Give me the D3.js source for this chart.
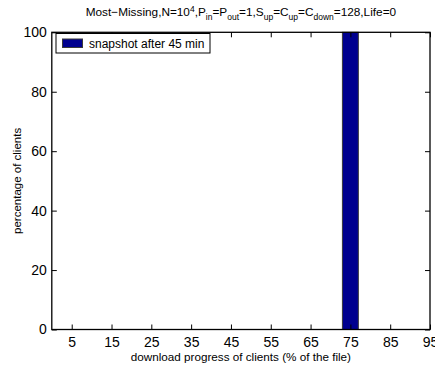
<!DOCTYPE html>
<html><head><meta charset="utf-8">
<script src="https://cdn.jsdelivr.net/npm/d3@7"></script>
<style>body{margin:0;background:#fff;}svg{display:block;font-family:"Liberation Sans",Arial,sans-serif;}</style>
</head><body>
<svg id="c" width="435" height="366"></svg>
<script>
const categories = [0,5,10,15,20,25,30,35,40,45,50,55,60,65,70,75,80,85,90,95];
const values     = [0,0,0,0,0,0,0,0,0,0,0,0,0,0,0,100,0,0,0,0];
const xTicks = [5,15,25,35,45,55,65,75,85,95];
const yTicks = [0,20,40,60,80,100];
const seriesName = "snapshot after 45 min";
const xLabel = "download progress of clients (% of the file)";
const yLabel = "percentage of clients";

const svg = d3.select("#c");
const L=51.8, R=430, T=32.3, B=329.5;
const x = d3.scaleLinear().domain([0,95]).range([L,R]);
const y = d3.scaleLinear().domain([0,100]).range([B,T]);
const barW = 4;

// bars
svg.append("g").selectAll("rect").data(categories.map((c,i)=>({c,v:values[i]})).filter(d=>d.v>0))
  .join("rect")
  .attr("x",d=>x(d.c-barW/2)).attr("width",d=>x(d.c+barW/2)-x(d.c-barW/2))
  .attr("y",d=>y(d.v)).attr("height",d=>y(0)-y(d.v))
  .attr("fill","#00008f").attr("stroke","#3a3a3a").attr("stroke-width",1);

// axes
const fs = 14;
const xb = d3.axisBottom(x).tickValues(xTicks).tickSize(-5).tickPadding(7.5).tickFormat(d3.format("d"));
const xt = d3.axisTop(x).tickValues(xTicks).tickSize(-5).tickFormat("");
const yl = d3.axisLeft(y).tickValues(yTicks).tickSize(-5).tickPadding(5).tickFormat(d3.format("d"));
const yr = d3.axisRight(y).tickValues(yTicks).tickSize(-5).tickFormat("");
function style(g){g.select(".domain").remove();g.selectAll("line").attr("stroke","#000");g.selectAll("text").attr("fill","#000").attr("font-family","Liberation Sans, Arial, sans-serif").attr("font-size",fs);}
svg.append("g").attr("transform",`translate(0,${B})`).call(xb).call(style);
svg.append("g").attr("transform",`translate(0,${T})`).call(xt).call(style);
svg.append("g").attr("transform",`translate(${L},0)`).call(yl).call(style);
svg.append("g").attr("transform",`translate(${R},0)`).call(yr).call(style);
svg.append("rect").attr("x",L).attr("y",T).attr("width",R-L).attr("height",B-T)
  .attr("fill","none").attr("stroke","#000").attr("stroke-width",1.3);

// title
const title = svg.append("text").attr("x",(L+R)/2).attr("y",16).attr("text-anchor","middle").attr("font-size",11.8).attr("fill","#000");
const parts = [["Most\u2212Missing,N=10",""],["4","sup"],[",P",""],["in","sub"],["=P",""],["out","sub"],["=1,S",""],["up","sub"],["=C",""],["up","sub"],["=C",""],["down","sub"],["=128,Life=0",""]];
const off = k => k==="sup"?-4.5:(k==="sub"?4:0);
parts.forEach(([t,k],i)=>{
  const prev = i>0 ? parts[i-1][1] : "";
  const ts = title.append("tspan").text(t).attr("dy",off(k)-off(prev));
  if(k) ts.attr("font-size",8.5);
});

// axis labels
svg.append("text").attr("x",(L+R)/2).attr("y",361).attr("text-anchor","middle").attr("font-size",11.7).text(xLabel);
svg.append("text").attr("transform",`translate(20.5,${(T+B)/2}) rotate(-90)`).attr("text-anchor","middle").attr("font-size",11.5).text(yLabel);

// legend
const lg = svg.append("g");
lg.append("rect").attr("x",56).attr("y",33.5).attr("width",154).attr("height",19.5).attr("fill","#fff").attr("stroke","#000").attr("stroke-width",1);
lg.append("rect").attr("x",62.5).attr("y",39).attr("width",20).attr("height",8.5).attr("fill","#00008f").attr("stroke","#3a3a3a").attr("stroke-width",1);
lg.append("text").attr("x",89).attr("y",47.5).attr("font-size",12).text(seriesName);
</script>
</body></html>
